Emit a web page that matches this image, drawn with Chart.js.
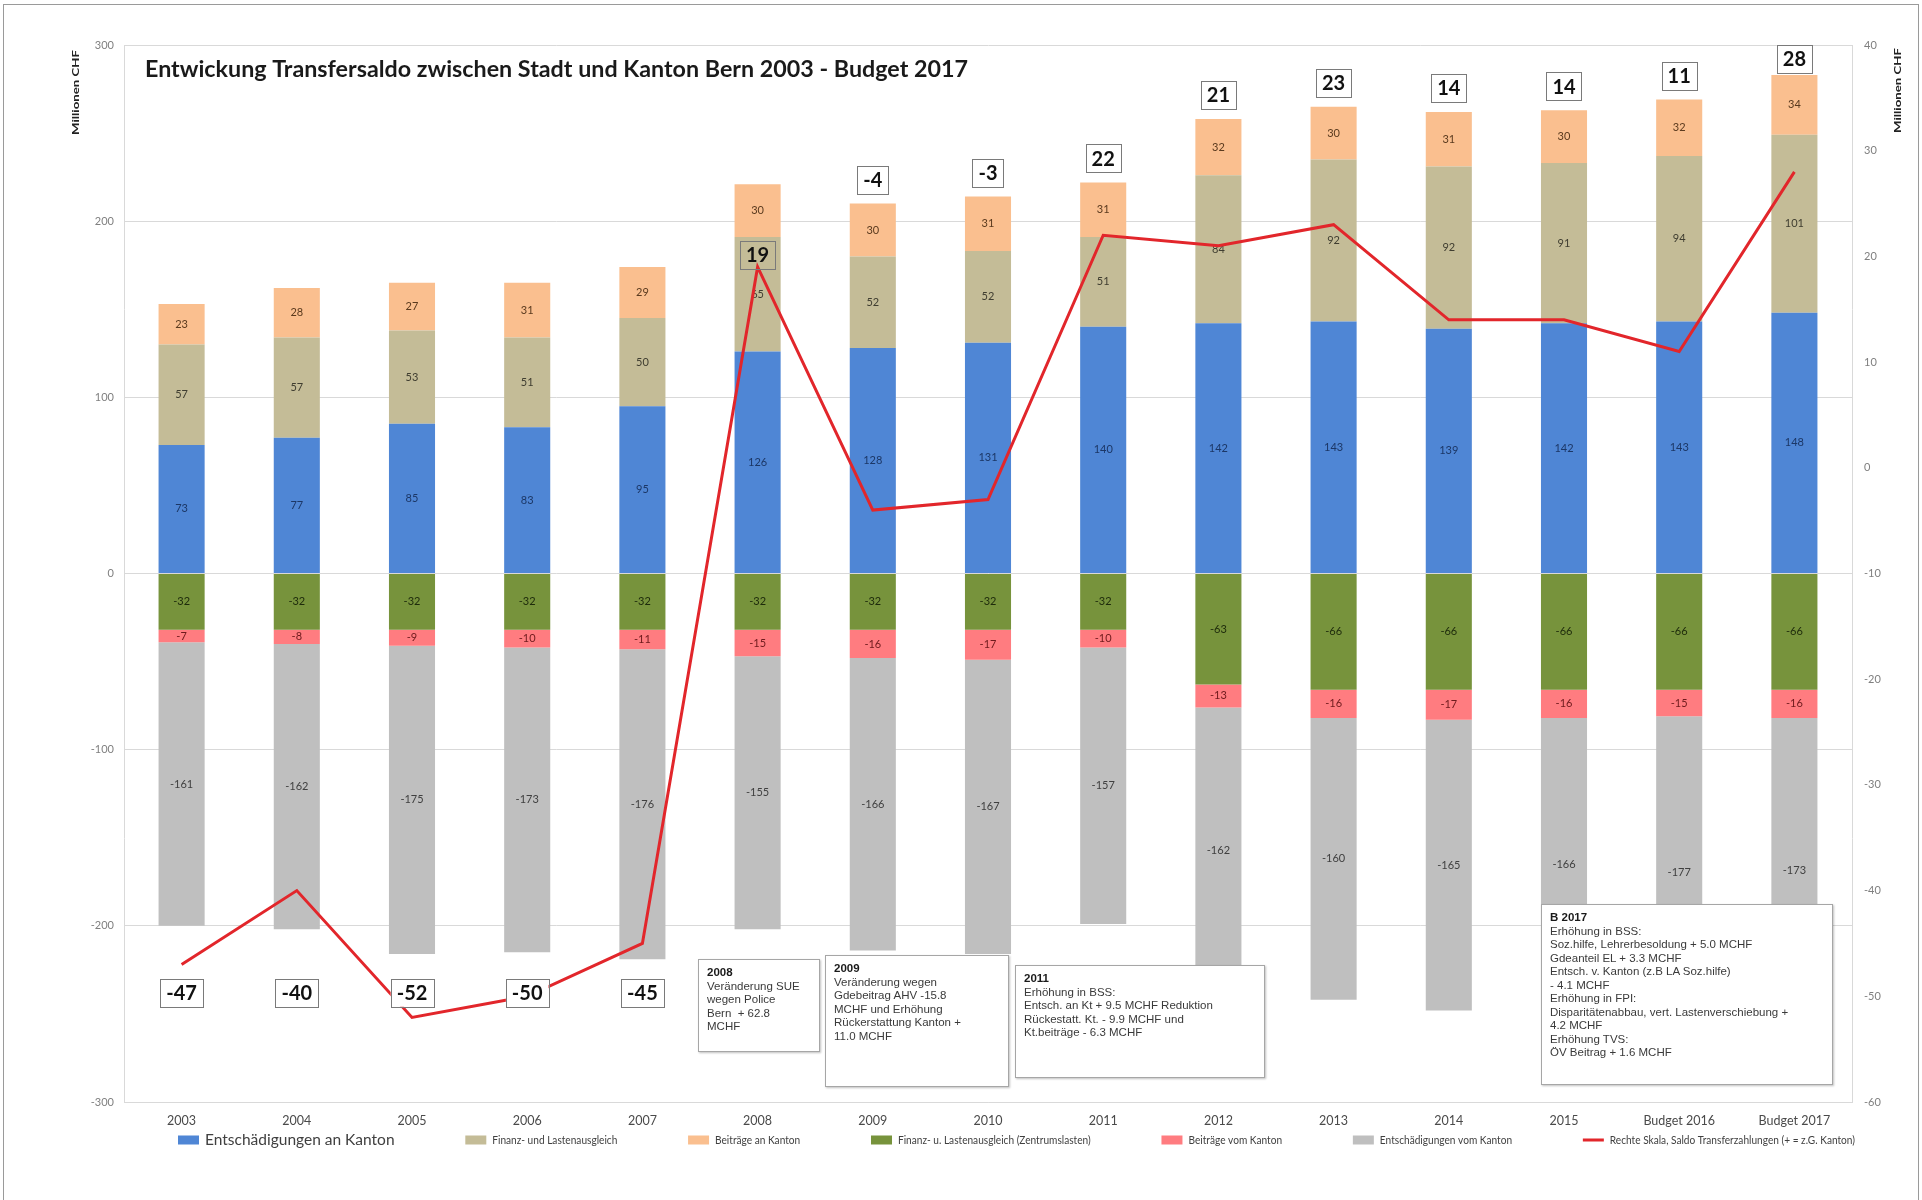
<!DOCTYPE html>
<html><head><meta charset="utf-8">
<script src="https://cdn.jsdelivr.net/npm/chart.js@4.4.0/dist/chart.umd.min.js"></script>
<style>
html,body{margin:0;padding:0;background:#fff;}
#wrap{position:relative;width:1922px;height:1200px;overflow:hidden;background:#fff;}
#frame{position:absolute;left:3px;top:4px;width:1916px;height:1300px;border:1px solid #9a9a9a;box-sizing:border-box;}
canvas{position:absolute;left:0;top:0;}
.note{position:absolute;background:#fff;border:1px solid #a6a6a6;box-shadow:1px 1px 2px rgba(0,0,0,0.25);font-family:'Liberation Sans',Arial,sans-serif;font-size:11.5px;line-height:13.5px;color:#3a3a3a;padding:6px 8px;box-sizing:border-box;white-space:nowrap;}
.note b{color:#1a1a1a;}
</style></head>
<body>
<div id="wrap">
<div id="frame"></div>
<canvas id="c" width="1922" height="1200"></canvas>
<div class="note" style="left:698px;top:959px;width:122px;height:93px;"><b>2008</b><br>Veränderung SUE<br>wegen Police<br>Bern&nbsp; + 62.8<br>MCHF</div>
<div class="note" style="left:825px;top:955px;width:184px;height:132px;"><b>2009</b><br>Veränderung wegen<br>Gdebeitrag AHV -15.8<br>MCHF und Erhöhung<br>Rückerstattung Kanton +<br>11.0 MCHF</div>
<div class="note" style="left:1015px;top:965px;width:250px;height:113px;"><b>2011</b><br>Erhöhung in BSS:<br>Entsch. an Kt + 9.5 MCHF Reduktion<br>Rückestatt. Kt. - 9.9 MCHF und<br>Kt.beiträge - 6.3 MCHF</div>
<div class="note" style="left:1541px;top:904px;width:292px;height:181px;"><b>B 2017</b><br>Erhöhung in BSS:<br>Soz.hilfe, Lehrerbesoldung + 5.0 MCHF<br>Gdeanteil EL + 3.3 MCHF<br>Entsch. v. Kanton (z.B LA Soz.hilfe)<br>- 4.1 MCHF<br>Erhöhung in FPI:<br>Disparitätenabbau, vert. Lastenverschiebung +<br>4.2 MCHF<br>Erhöhung TVS:<br>ÖV Beitrag + 1.6 MCHF</div>
</div>
<script>
// ---- data ----
const categories = ['2003','2004','2005','2006','2007','2008','2009','2010','2011','2012','2013','2014','2015','Budget 2016','Budget 2017'];
const entschAnKanton        = [73, 77, 85, 83, 95, 126, 128, 131, 140, 142, 143, 139, 142, 143, 148];
const finanzLastenausgleich = [57, 57, 53, 51, 50, 65, 52, 52, 51, 84, 92, 92, 91, 94, 101];
const beitraegeAnKanton     = [23, 28, 27, 31, 29, 30, 30, 31, 31, 32, 30, 31, 30, 32, 34];
const zentrumslasten        = [-32, -32, -32, -32, -32, -32, -32, -32, -32, -63, -66, -66, -66, -66, -66];
const beitraegeVomKanton    = [-7, -8, -9, -10, -11, -15, -16, -17, -10, -13, -16, -17, -16, -15, -16];
const entschVomKanton       = [-161, -162, -175, -173, -176, -155, -166, -167, -157, -162, -160, -165, -166, -177, -173];
const saldo                 = [-47, -40, -52, -50, -45, 19, -4, -3, 22, 21, 23, 14, 14, 11, 28];
const titleText = 'Entwickung Transfersaldo zwischen Stadt und Kanton Bern 2003 - Budget 2017';
const axisTitle = 'Millionen CHF';

// label placement style for the saldo boxes
const saldoPlacement = ['below','below','below','below','below','point','top','top','top','top','top','top','top','top','top'];

const FONT = 'Lato, "Open Sans", sans-serif';

const barLabels = {
  id:'barLabels',
  afterDatasetDraw(chart, args){
    const ds = chart.data.datasets[args.index];
    if (ds.type !== 'bar') return;
    const ctx = chart.ctx; ctx.save();
    ctx.font = '11px ' + FONT; ctx.textAlign='center'; ctx.textBaseline='middle';
    ctx.fillStyle = ds.labelColor;
    args.meta.data.forEach((el,i)=>{
      ctx.fillText(String(ds.data[i]), el.x, (el.y+el.base)/2);
    });
    ctx.restore();
  }
};

const saldoLabels = {
  id:'saldoLabels',
  afterDatasetsDraw(chart){
    const ctx = chart.ctx; ctx.save();
    const yL = chart.scales.y;
    const lineIdx = chart.data.datasets.findIndex(d=>d.type==='line');
    const lineMeta = chart.getDatasetMeta(lineIdx);
    const topMeta = chart.getDatasetMeta(2);
    ctx.font = 'bold 20px ' + FONT; ctx.textAlign='center'; ctx.textBaseline='middle';
    saldo.forEach((v,i)=>{
      const pt = lineMeta.data[i];
      let x = pt.x, y;
      const mode = saldoPlacement[i];
      if (mode==='below') y = yL.getPixelForValue(-238);
      else if (mode==='point') y = pt.y - 12;
      else y = topMeta.data[i].y - (i===categories.length-1 ? 16 : 24);
      const t = String(v);
      const w = ctx.measureText(t).width + 12, h = 28;
      if (mode!=='point'){ ctx.fillStyle='#fff'; ctx.fillRect(x-w/2, y-h/2, w, h); }
      ctx.strokeStyle='#7a7a7a'; ctx.lineWidth=1;
      ctx.strokeRect(Math.round(x-w/2)+0.5, Math.round(y-h/2)+0.5, Math.round(w), h);
      ctx.fillStyle='#111';
      ctx.fillText(t, x, y+1);
    });
    ctx.restore();
  }
};

function fitText(ctx, text, x, y, targetW, font){
  ctx.font = font;
  const w = ctx.measureText(text).width;
  ctx.save(); ctx.translate(x,y); ctx.scale(targetW/w,1); ctx.fillText(text,0,0); ctx.restore();
}

const decorations = {
  id:'decorations',
  afterDraw(chart){
    const ctx = chart.ctx; ctx.save();
    // title
    ctx.fillStyle='#1a1a1a'; ctx.textAlign='left'; ctx.textBaseline='middle';
    fitText(ctx, titleText, 145, 70, 823, 'bold 22px ' + FONT);
    // axis titles
    [[76,135],[1898,133]].forEach(([x,y0])=>{
      ctx.save(); ctx.translate(x,y0); ctx.rotate(-Math.PI/2);
      ctx.fillStyle='#222'; ctx.textAlign='left'; ctx.textBaseline='middle';
      fitText(ctx, axisTitle, 0, 0, 85, 'bold 10px ' + FONT);
      ctx.restore();
    });
    // legend
    const items = chart.data.datasets.map((d,i)=>({
      label:d.label, color: d.type==='line'? d.borderColor : d.backgroundColor, line: d.type==='line',
      font: (i===0? '15.5px ':'11px ') + FONT, cf: i===0 ? 1 : 0.92
    }));
    const swW = 21, swGap = 6;
    let total = 0;
    items.forEach(it=>{ ctx.font=it.font; it.tw = ctx.measureText(it.label).width*it.cf; total += swW+swGap+it.tw; });
    const x0 = 178, x1 = 1855, ly = 1140;
    const gap = (x1-x0-total)/(items.length-1);
    let cx = x0;
    items.forEach(it=>{
      ctx.fillStyle = it.color;
      if (it.line) ctx.fillRect(cx, ly-1.5, swW, 3);
      else ctx.fillRect(cx, ly-4.5, swW, 9);
      cx += swW+swGap;
      ctx.fillStyle='#404040'; ctx.textAlign='left'; ctx.textBaseline='middle';
      ctx.font = it.font;
      ctx.save(); ctx.translate(cx, ly); ctx.scale(it.cf,1); ctx.fillText(it.label,0,0); ctx.restore();
      cx += it.tw + gap;
    });
    ctx.restore();
  }
};

const tickFont = {family:FONT, size:11};
new Chart(document.getElementById('c').getContext('2d'), {
  data:{
    labels: categories,
    datasets:[
      {type:'bar', label:'Entschädigungen an Kanton', data:entschAnKanton, backgroundColor:'#4F86D5', labelColor:'#1C3766', order:1},
      {type:'bar', label:'Finanz- und Lastenausgleich', data:finanzLastenausgleich, backgroundColor:'#C4BC97', labelColor:'#3f3d30', order:1},
      {type:'bar', label:'Beiträge an Kanton', data:beitraegeAnKanton, backgroundColor:'#FABF8F', labelColor:'#5a3a1e', order:1},
      {type:'bar', label:'Finanz- u. Lastenausgleich (Zentrumslasten)', data:zentrumslasten, backgroundColor:'#77933C', labelColor:'#1d2a0b', order:1},
      {type:'bar', label:'Beiträge vom Kanton', data:beitraegeVomKanton, backgroundColor:'#FF7C80', labelColor:'#6e1a1c', order:1},
      {type:'bar', label:'Entschädigungen vom Kanton', data:entschVomKanton, backgroundColor:'#BFBFBF', labelColor:'#404040', order:1},
      {type:'line', label:'Rechte Skala, Saldo Transferzahlungen (+ = z.G. Kanton)', data:saldo, yAxisID:'y2', borderColor:'#E2262B', borderWidth:3, pointRadius:0, tension:0, fill:false, order:0}
    ]
  },
  options:{
    responsive:false, animation:false, devicePixelRatio:1,
    layout:{padding:{left:0,right:0,top:45,bottom:68}},
    plugins:{legend:{display:false}, tooltip:{enabled:false}, title:{display:false}},
    datasets:{bar:{barPercentage:0.4, categoryPercentage:1}},
    scales:{
      x:{stacked:true, grid:{display:false}, border:{display:true,color:'#D9D9D9'},
         ticks:{font:{family:FONT,size:12.5}, color:'#4a4a4a', padding:3, maxRotation:0, autoSkip:false},
         afterFit(s){ s.height=30; }},
      y:{stacked:true, position:'left', min:-300, max:300,
         ticks:{stepSize:100, font:tickFont, color:'#7f7f7f', padding:10},
         grid:{color:'#D9D9D9', drawTicks:false}, border:{color:'#D9D9D9'},
         afterFit(s){ s.width=124; }},
      y2:{position:'right', min:-60, max:40,
         ticks:{stepSize:10, font:tickFont, color:'#7f7f7f', padding:12},
         grid:{drawOnChartArea:false, drawTicks:false}, border:{color:'#D9D9D9'},
         afterFit(s){ s.width=70; }}
    }
  },
  plugins:[barLabels, saldoLabels, decorations]
});
</script>
</body></html>
